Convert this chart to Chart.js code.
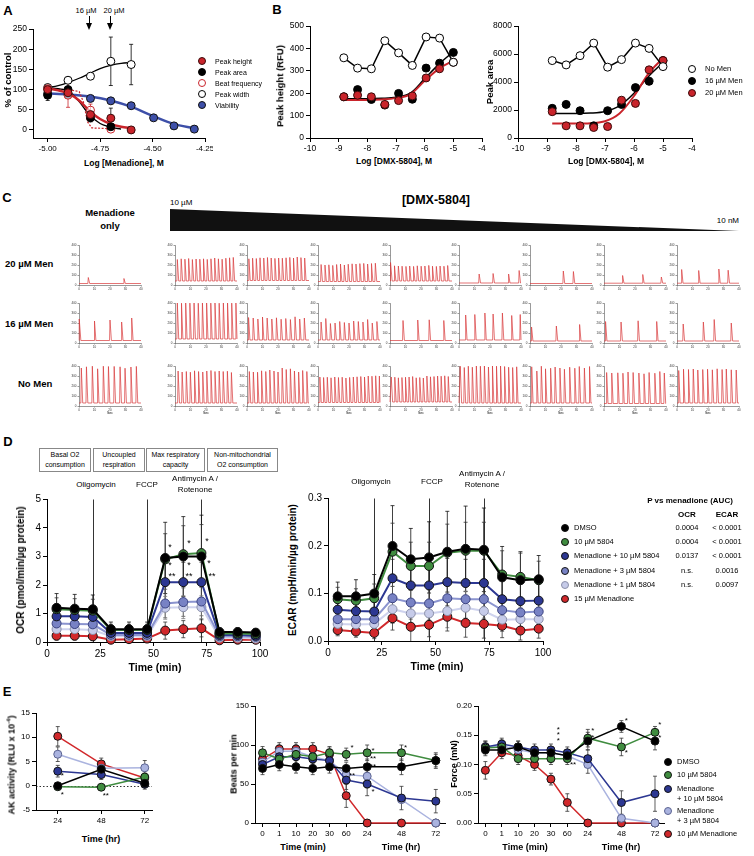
<!DOCTYPE html>
<html><head><meta charset="utf-8">
<script src="https://cdn.jsdelivr.net/npm/chart.js@4.4.1/dist/chart.umd.min.js"></script>
<style>
body{margin:0;background:#fff;}
#fig{position:relative;width:754px;height:856px;overflow:hidden;font-family:"Liberation Sans",Arial,sans-serif;color:#000;background:#fff;}
#fig canvas{position:absolute;}
.t{position:absolute;white-space:nowrap;line-height:1;}
.box{position:absolute;border:1px solid #888;box-sizing:border-box;font-size:7px;text-align:center;line-height:10px;padding-top:1px;}
</style></head><body><div id="fig"></div>
<script>
// ---------- A: menadione dose response ----------
const aLogMen = [-5, -4.903, -4.796, -4.699, -4.602, -4.495, -4.398, -4.301];
const aPeakHeight = [100, 92, 38, 29, 0];
const aPeakHeightErr = [5, 10, 8, 25, 3];
const aPeakArea = [86, 100, 30, 8];
const aPeakAreaErr = [13, 5, 10, 6];
const aBeatFreq = [102, 86, 49, 2];
const aBeatFreqErr = [5, 30, 15, 3];
const aPeakWidth = [105, 123, 133, 170, 162];
const aPeakWidthErr = [6, 8, 8, 60, 50];
const aViability = [90, 88, 78, 72, 60, 30, 10, 2];
const aFitX = [-5, -4.95, -4.9, -4.85, -4.8, -4.75, -4.7, -4.65, -4.6];
const aFitHeight = [103, 98, 90, 73, 47, 27, 15, 8, 4];
const aFitArea = [105, 102, 96, 70, 37, 16, 7, 2];
const aFitWidth = [105, 110, 118, 128, 140, 152, 160, 165, 167];
const aBeatX = [-5, -4.9, -4.85, -4.83, -4.81, -4.79, -4.7];
const aBeatLine = [102, 100, 95, 70, 20, 5, 3];
const aViabX = [-5, -4.9, -4.8, -4.7, -4.6, -4.5, -4.4, -4.3];
const aViabFit = [90, 88, 83, 73, 57, 35, 15, 4];
const aTicksX = [-5, -4.75, -4.5, -4.25];
const aTicksY = [0, 50, 100, 150, 200, 250];

// ---------- B: DMX-5804 rescue ----------
const bLogDmx = [-8.82, -8.34, -7.86, -7.39, -6.91, -6.43, -5.95, -5.48, -5.0];
const bNoMenH = [358, 312, 309, 434, 380, 324, 451, 446, 338];
const bMen16H = [184, 216, 172, 147, 199, 173, 312, 334, 382];
const bMen20H = [184, 191, 184, 150, 167, 188, 268, 309, 338];
const bNoMenA = [5530, 5220, 5880, 6780, 5060, 5600, 6780, 6400, 5100];
const bMen16A = [2120, 2400, 1950, 870, 1950, 2400, 3600, 4050, 5530];
const bMen20A = [1880, 870, 870, 750, 820, 2700, 2470, 4870, 5530];
const bFitX = [-8.82, -8, -7.5, -7, -6.5, -6, -5.5, -5];
const bFit16H = [175, 175, 177, 182, 200, 265, 330, 385];
const bFit20H = [170, 170, 172, 178, 195, 255, 310, 345];
const bFit16A = [1750, 1750, 1780, 1900, 2300, 3200, 4400, 5400];
const bFit20A = [1030, 1030, 1060, 1200, 1750, 3000, 4600, 5700];
const bTicksX = [-10, -9, -8, -7, -6, -5, -4];
const bTicksH = [0, 100, 200, 300, 400, 500];
const bTicksA = [0, 2000, 4000, 6000, 8000];

// ---------- C: calcium traces (peak times s, peak heights RFU, baseline) ----------
const cTimes20 = [
  [6, 29],
  [1.5,4,6.4,8.8,11.2,13.6,16,18.4,20.8,23.2,25.6,28,30.4,32.8,35.2,37.6],
  [1.2,3.6,6,8.4,10.8,13.2,15.6,18,20.4,22.8,25.2,27.6,30,32.4,34.8,37.2],
  [2,4.5,7,9.5,12,14.5,17,19.5,22,24.5,27,29.5,32,34.5,37],
  [0.5,2.9,5.4,7.8,10.3,12.7,15.2,17.6,20.1,22.5,25,27.4,29.9,32.3,34.8,37.2],
  [13,22,32,38.8], [21.5,28], [12,25,37], [3,14,27,33]
];
const cHeights20 = [
  [75,65],
  [255,262,258,265,255,260,258,262,256,262,270,262,258,268,272,276],
  [262,268,265,272,270,275,270,266,270,268,272,276,270,280,274,270],
  [205,200,202,196,205,210,200,208,212,210,214,216,210,215,218],
  [225,192,190,188,186,190,186,192,188,190,196,188,186,190,188,195],
  [110,115,110,145], [140,135], [95,105,80], [155,145,160,148]
];
const cBase20 = [15, 40, 45, 35, 40, 20, 15, 18, 18];
const cTimes16 = [
  [0.3,10,20,27.5,34],
  [1.5,4.2,6.9,9.6,12.3,15,17.7,20.4,23.1,25.8,28.5,31.2,33.9,36.6,39.3],
  [1,4,7,10,13,16,19,22,25,28,31,34,37],
  [2,5,8,11,14,17,20,23,26,29,32,35,38],
  [8.4,17.9,25.3,34.7], [4.3,10.2,16.7,22,28,34,39.5], [1,17,32], [1,11,22,34], [4,17,24,35]
];
const cHeights16 = [
  [240,220,230,210,250],
  [400,398,400,399,400,398,400,400,399,400,398,400,400,399,400],
  [255,250,240,260,250,240,252,238,245,235,262,240,250],
  [210,245,195,200,215,205,200,220,215,210,235,200,215],
  [225,230,232,225], [280,285,300,290,300,275,285], [160,170,185], [215,210,222,215], [190,210,235,200]
];
const cBase16 = [25, 40, 30, 30, 25, 30, 20, 20, 20];
const cTimesNo = [
  [1.5,4.8,8.6,12,15.7,19,22.7,26.5,29.7,33.5,37],
  [2,4.6,7.3,9.9,12.6,15.2,17.9,20.5,23.2,25.8,28.5,31.1,33.8,36.4],
  [1.5,4.1,6.8,9.4,12.1,14.7,17.4,20,22.7,25.3,28,30.6,33.3,35.9,38.6],
  [1.2,3.6,6,8.4,10.8,13.2,15.6,18,20.4,22.8,25.2,27.6,30,32.4,34.8,37.2,39.6],
  [0.8,3.1,5.4,7.7,10,12.3,14.6,16.9,19.2,21.5,23.8,26.1,28.4,30.7,33,35.3,37.6],
  [0.8,3.4,6,8.6,11.2,13.8,16.4,19,21.6,24.2,26.8,29.4,32,34.6,37.2],
  [1.1,4.4,7.3,10,13.3,16.2,19.3,22.2,25.6,28.9,31.8,35.1,38.4],
  [1.7,5,8.9,12.2,15.5,18.8,22.5,25.8,29.1,32.8,36,38.9],
  [1.1,4.2,7.4,10.5,13.4,16.6,19.7,22.8,25.9,29.1,31.8,35,38.2]
];
const cHeightsNo = [
  [380,392,398,372,398,395,396,392,378,390,396],
  [350,340,345,338,352,345,340,350,355,345,350,345,348,335],
  [345,340,338,352,345,360,350,340,380,365,372,350,340,355,345],
  [290,285,288,282,290,285,288,280,286,290,292,295,290,300,298,302,300],
  [290,288,282,285,288,290,295,282,285,280,300,292,295,300,298,302,295],
  [398,385,398,388,400,398,400,390,400,398,400,395,388,385,392],
  [392,350,398,372,378,390,380,368,388,378,395,380,395],
  [335,330,332,328,340,335,330,322,335,328,345,330],
  [355,368,365,370,360,365,368,362,372,365,370,362,360]
];
const cBaseNo = [30, 30, 30, 35, 40, 30, 30, 25, 30];
const cTicksX = [0, 10, 20, 30, 40];
const cTicksY = [0, 100, 200, 300, 400];

// ---------- D: Seahorse OCR / ECAR ----------
const dTime = [4.5, 13, 21.5, 30, 38.5, 47, 55.5, 64, 72.5, 81, 89.5, 98];
const dInject = [21.5, 47, 72.5];
const dNames = ['DMSO', '10 µM 5804', 'Menadione + 10 µM 5804', 'Menadione + 3 µM 5804', 'Menadione + 1 µM 5804', '15 µM Menadione'];
const dOcr = [
  [1.2, 1.17, 1.15, 0.45, 0.45, 0.45, 2.95, 3.0, 3.0, 0.35, 0.35, 0.33],
  [1.15, 1.12, 1.1, 0.42, 0.42, 0.42, 2.9, 3.08, 3.12, 0.3, 0.3, 0.28],
  [0.9, 0.9, 0.88, 0.32, 0.32, 0.32, 2.1, 2.1, 2.1, 0.25, 0.25, 0.22],
  [0.65, 0.63, 0.62, 0.25, 0.25, 0.25, 1.35, 1.4, 1.42, 0.2, 0.2, 0.18],
  [0.45, 0.45, 0.42, 0.2, 0.2, 0.2, 1.2, 1.22, 1.22, 0.15, 0.15, 0.12],
  [0.22, 0.22, 0.2, 0.08, 0.1, 0.12, 0.4, 0.45, 0.48, 0.06, 0.08, 0.08]
];
const dOcrErr = [
  [0.5, 0.5, 0.5, 0.25, 0.25, 0.25, 1.25, 1.4, 1.45, 0.15, 0.15, 0.12],
  [0.4, 0.4, 0.4, 0.2, 0.2, 0.2, 0.9, 1.0, 1.0, 0.12, 0.12, 0.1],
  [0.35, 0.3, 0.3, 0.15, 0.15, 0.15, 0.7, 0.7, 0.7, 0.1, 0.1, 0.1],
  [0.3, 0.3, 0.3, 0.15, 0.15, 0.15, 0.5, 0.5, 0.5, 0.1, 0.1, 0.1],
  [0.25, 0.25, 0.25, 0.1, 0.1, 0.1, 0.4, 0.4, 0.4, 0.08, 0.08, 0.08],
  [0.15, 0.15, 0.15, 0.06, 0.06, 0.06, 0.3, 0.3, 0.3, 0.05, 0.05, 0.05]
];
const dEcar = [
  [0.094, 0.094, 0.1, 0.2, 0.172, 0.176, 0.188, 0.194, 0.192, 0.134, 0.128, 0.13],
  [0.088, 0.085, 0.09, 0.188, 0.158, 0.158, 0.186, 0.19, 0.19, 0.14, 0.135, 0.128],
  [0.066, 0.063, 0.062, 0.132, 0.117, 0.117, 0.124, 0.122, 0.122, 0.088, 0.084, 0.085],
  [0.046, 0.046, 0.046, 0.09, 0.081, 0.079, 0.09, 0.088, 0.088, 0.065, 0.06, 0.062],
  [0.036, 0.035, 0.036, 0.067, 0.058, 0.058, 0.063, 0.07, 0.063, 0.045, 0.046, 0.046],
  [0.023, 0.02, 0.017, 0.048, 0.03, 0.034, 0.051, 0.038, 0.036, 0.032, 0.022, 0.026]
];
const dEcarErr = [
  [0.03, 0.035, 0.04, 0.085, 0.065, 0.075, 0.085, 0.09, 0.088, 0.065, 0.06, 0.05],
  [0.025, 0.025, 0.03, 0.06, 0.05, 0.05, 0.06, 0.06, 0.06, 0.05, 0.05, 0.04],
  [0.02, 0.02, 0.02, 0.04, 0.04, 0.04, 0.05, 0.05, 0.05, 0.04, 0.04, 0.04],
  [0.02, 0.02, 0.02, 0.035, 0.035, 0.035, 0.04, 0.04, 0.04, 0.03, 0.03, 0.03],
  [0.015, 0.015, 0.015, 0.03, 0.03, 0.03, 0.035, 0.035, 0.035, 0.025, 0.025, 0.025],
  [0.012, 0.012, 0.012, 0.025, 0.03, 0.025, 0.03, 0.03, 0.03, 0.025, 0.02, 0.02]
];
const dPOcr = ['0.0004', '0.0004', '0.0137', 'n.s.', 'n.s.', ''];
const dPEcar = ['< 0.0001', '< 0.0001', '< 0.0001', '0.0016', '0.0097', ''];
const dStarsOcr = [[57.7,3.33,'*'],[66.7,3.44,'*'],[75.1,3.54,'*'],[57.7,2.67,'*'],[66.7,2.67,'*'],[76,2.74,'*'],[58.7,2.3,'**'],[66.7,2.3,'**'],[77.5,2.3,'**']];
const dTicksX = [0, 25, 50, 75, 100];
const dTicksOcr = [0, 1, 2, 3, 4, 5];
const dTicksEcar = [0, 0.1, 0.2, 0.3];

// ---------- E: long-term menadione ----------
const eNames = ['DMSO', '10 µM 5804', 'Menadione<br>+ 10 µM 5804', 'Menadione<br>+ 3 µM 5804', '10 µM Menadione'];
const eHr = [24, 48, 72];
const eAk = [[0, 3.4, 0.5], [-0.2, -0.3, 1.8], [3.0, 2.3, 0.3], [6.5, 3.6, 3.7], [10.2, 4.5, 1.6]];
const eAkErr = [[0.4, 0.6, 0.5], [0.3, 0.4, 0.6], [1.2, 1.0, 1.0], [1.5, 0.8, 1.5], [2, 1.2, 1.0]];
const eTimeLabels = ['0', '1', '10', '20', '30', '60', '24', '48', '72'];
const eTimeSlot = [0, 1, 2, 3, 4, 5, 6.25, 8.3, 10.35];
const eBeats = [
  [70, 75, 72, 70, 72, 70, 72, 72, 80],
  [90, 82, 88, 85, 90, 88, 90, 90, 80],
  [75, 85, 85, 82, 80, 55, 50, 32, 28],
  [78, 92, 92, 85, 80, 62, 60, 30, 0],
  [82, 95, 95, 95, 88, 35, 0, 0, 0]
];
const eBeatsErr = [
  [8, 8, 8, 8, 8, 8, 10, 10, 8],
  [8, 8, 8, 8, 8, 8, 10, 10, 10],
  [8, 8, 8, 8, 8, 12, 15, 15, 15],
  [8, 8, 8, 8, 8, 12, 15, 0, 0],
  [8, 8, 8, 8, 8, 15, 0, 0, 0]
];
const eForce = [
  [0.125, 0.125, 0.13, 0.12, 0.12, 0.115, 0.14, 0.165, 0.14],
  [0.128, 0.13, 0.11, 0.11, 0.11, 0.11, 0.145, 0.13, 0.155],
  [0.13, 0.135, 0.13, 0.125, 0.125, 0.12, 0.11, 0.035, 0.05],
  [0.13, 0.132, 0.125, 0.12, 0.12, 0.115, 0.1, 0.008, 0],
  [0.09, 0.12, 0.115, 0.1, 0.075, 0.035, 0, 0, 0]
];
const eForceErr = [
  [0.01, 0.01, 0.01, 0.01, 0.01, 0.01, 0.015, 0.01, 0.015],
  [0.01, 0.01, 0.01, 0.01, 0.01, 0.01, 0.015, 0.015, 0.01],
  [0.01, 0.01, 0.01, 0.01, 0.01, 0.01, 0.015, 0.02, 0.03],
  [0.01, 0.01, 0.01, 0.01, 0.01, 0.01, 0.015, 0, 0],
  [0.015, 0.01, 0.01, 0.01, 0.01, 0.015, 0, 0, 0]
];
const eStarsAk = [[26.5, 2.0, '*'], [26.5, -1.8, '*'], [50.5, -2, '**']];
const eStarsBeats = [[5.35, 97, '*'], [5.35, 60, '**'], [6.6, 92, '*'], [6.6, 82, '**'], [6.6, 72, '**'], [6.6, 40, '*'], [8.55, 97, '*']];
const eStarsForce = [[4.45, 0.16, '*'], [4.45, 0.15, '*'], [4.45, 0.14, '*'], [5.35, 0.1, '**'], [6.55, 0.158, '*'], [6.55, 0.146, '*'], [8.6, 0.175, '*'], [8.6, 0.12, '*'], [10.65, 0.168, '*'], [10.65, 0.145, '*']];
const eTicksAk = [-5, 0, 5, 10, 15];
const eTicksBeats = [0, 50, 100, 150];
const eTicksForce = [0, 0.05, 0.1, 0.15, 0.2];

// ---------- drawing ----------
Chart.defaults.animation = false;
Chart.defaults.responsive = false;
Chart.defaults.events = [];
Chart.defaults.font.family = '"Liberation Sans", Arial, sans-serif';
Chart.defaults.color = '#000';
Chart.defaults.plugins.legend.display = false;
Chart.defaults.plugins.tooltip.enabled = false;

const fig = document.getElementById('fig');
const RED = '#c9242b', BLUE = '#3d4fa8';
const dColors = ['#000000', '#3f8c3f', '#2c3792', '#7882c4', '#c6cbe9', '#d1282b'];
const dLine = ['#000000', '#3f8c3f', '#2c3792', '#8b94cf', '#cfd3ee', '#d1282b'];
const dErrC = ['#111', '#333', '#222', '#555', '#777', '#333'];
const eColors = ['#000000', '#3f8c3f', '#2c3792', '#aab3df', '#d1282b'];

const xy = (xs, ys) => ys.map((v, i) => ({x: xs[i], y: v}));

function extras(o) {
  return {
    id: 'extras',
    beforeDatasetsDraw(chart) {
      const {ctx, chartArea: ca} = chart;
      const x = chart.scales.x, y = chart.scales.y;
      ctx.save();
      ctx.strokeStyle = '#000'; ctx.lineWidth = 0.8;
      (o.vlines || []).forEach(v => {
        const px = Math.round(x.getPixelForValue(v)) + 0.5;
        ctx.beginPath(); ctx.moveTo(px, ca.top); ctx.lineTo(px, ca.bottom); ctx.stroke();
      });
      if (o.zeroLine) {
        const py = Math.round(y.getPixelForValue(0)) + 0.5;
        ctx.setLineDash([1.5, 2]);
        ctx.beginPath(); ctx.moveTo(ca.left, py); ctx.lineTo(ca.right, py); ctx.stroke();
        ctx.setLineDash([]);
      }
      chart.data.datasets.forEach(ds => {
        if (!ds.err) return;
        ctx.strokeStyle = ds.errColor || '#000'; ctx.lineWidth = 0.8;
        ds.data.forEach((p, j) => {
          const e = ds.err[j]; if (!e) return;
          const px = x.getPixelForValue(p.x);
          const top = Math.max(y.getPixelForValue(p.y + e), ca.top - 3);
          const bot = Math.min(y.getPixelForValue(p.y - e), ca.bottom);
          ctx.beginPath();
          ctx.moveTo(px, top); ctx.lineTo(px, bot);
          ctx.moveTo(px - 2, top); ctx.lineTo(px + 2, top);
          if (bot < ca.bottom) { ctx.moveTo(px - 2, bot); ctx.lineTo(px + 2, bot); }
          ctx.stroke();
        });
      });
      ctx.restore();
    },
    afterDatasetsDraw(chart) {
      if (!o.stars) return;
      const {ctx} = chart;
      ctx.save();
      ctx.fillStyle = '#000';
      ctx.font = (o.starSize || 9) + 'px "Liberation Sans", Arial';
      ctx.textAlign = 'center'; ctx.textBaseline = 'middle';
      o.stars.forEach(s => ctx.fillText(s[2], chart.scales.x.getPixelForValue(s[0]), chart.scales.y.getPixelForValue(s[1])));
      ctx.restore();
    }
  };
}

function axis(min, max, ticks, size, fmt, look) {
  look = look || {};
  return {
    type: 'linear', min, max,
    afterBuildTicks: s => { s.ticks = ticks.map(v => ({value: v})); },
    ticks: {font: {size}, color: look.tc || '#000', padding: look.pad ?? 2, autoSkip: false, maxRotation: 0,
            callback: fmt || (v => v)},
    grid: {display: true, drawOnChartArea: false, drawTicks: true, tickLength: look.tl ?? 4,
           color: look.c || '#000', lineWidth: look.w || 1},
    border: {display: true, color: look.c || '#000', width: look.w || 1}
  };
}

// area = [left, top, right, bottom] of the plot, m = [yAxisW, padTop, padRight, xAxisH]
function chartAt(area, m, scales, datasets, extra) {
  const [l, t, r, b] = area;
  const W = r - l + m[0] + m[2], H = b - t + m[1] + m[3];
  const c = document.createElement('canvas');
  c.width = W; c.height = H;
  Object.assign(c.style, {left: (l - m[0]) + 'px', top: (t - m[1]) + 'px', width: W + 'px', height: H + 'px'});
  fig.appendChild(c);
  Object.values(scales).forEach(s => {
    s.afterFit = sc => {
      if (sc.isHorizontal()) sc.height = m[3]; else sc.width = m[0];
      sc.paddingLeft = sc.paddingRight = sc.paddingTop = sc.paddingBottom = 0;
    };
  });
  return new Chart(c, {
    type: 'line',
    data: {datasets},
    options: {devicePixelRatio: 1, clip: false, layout: {padding: {left: 0, top: m[1], right: m[2], bottom: 0}}, scales},
    plugins: [extras(extra || {})]
  });
}

function pts(xs, ys, fill, stroke, r, more) {
  return Object.assign({data: xy(xs, ys), showLine: false, pointRadius: r, pointBackgroundColor: fill,
    pointBorderColor: stroke, pointBorderWidth: 1, borderColor: stroke, borderWidth: 1.5, tension: 0, order: 1}, more);
}
function curve(xs, ys, color, w, more) {
  return Object.assign({data: xy(xs, ys), showLine: true, borderColor: color, borderWidth: w, pointRadius: 0,
    cubicInterpolationMode: 'monotone', fill: false, order: 2}, more);
}

function T(s, x, y, size, o) {
  o = o || {};
  const d = document.createElement('div');
  d.className = 't';
  d.innerHTML = s;
  d.style.left = x + 'px'; d.style.top = y + 'px'; d.style.fontSize = size + 'px';
  if (o.b) d.style.fontWeight = 'bold';
  if (o.lh) { d.style.lineHeight = o.lh; d.style.textAlign = o.ta || 'center'; }
  const a = o.a || 'c';
  const ty = o.top ? '0' : '-50%';
  d.style.transform = (a === 'c' ? 'translate(-50%,' + ty + ')' : a === 'r' ? 'translate(-100%,' + ty + ')' : 'translate(0,' + ty + ')') + (o.rot ? ' rotate(-90deg)' : '');
  fig.appendChild(d);
}
function dot(x, y, r, fill, stroke) {
  const d = document.createElement('div');
  Object.assign(d.style, {position: 'absolute', left: (x - r) + 'px', top: (y - r) + 'px', width: 2 * r + 'px', height: 2 * r + 'px',
    borderRadius: '50%', background: fill, border: '1px solid ' + stroke, boxSizing: 'border-box'});
  fig.appendChild(d);
}
function arrow(x, y1, y2) {
  const s = document.createElement('div');
  Object.assign(s.style, {position: 'absolute', left: (x - 0.5) + 'px', top: y1 + 'px', width: '1.4px', height: (y2 - y1 - 5) + 'px', background: '#000'});
  fig.appendChild(s);
  const h = document.createElement('div');
  Object.assign(h.style, {position: 'absolute', left: (x - 3.5) + 'px', top: (y2 - 6) + 'px', width: 0, height: 0,
    borderLeft: '3.5px solid transparent', borderRight: '3.5px solid transparent', borderTop: '7px solid #000'});
  fig.appendChild(h);
}

// ----- panel letters -----
T('A', 8, 10, 13, {b: 1}); T('B', 277, 9, 13, {b: 1}); T('C', 7, 197, 13, {b: 1});
T('D', 8, 441, 13, {b: 1}); T('E', 7, 691, 13, {b: 1});

// ----- A -----
chartAt([33, 28, 205, 138], [24, 4, 8, 16], {
  x: axis(-5.07, -4.25, aTicksX, 8, v => v.toFixed(2)),
  y: axis(-20, 250, aTicksY, 8.5)
}, [
  pts(aLogMen, aPeakHeight, RED, '#3a0a0a', 4, {err: aPeakHeightErr}),
  pts(aLogMen, aPeakArea, '#000', '#000', 4, {err: aPeakAreaErr}),
  pts(aLogMen, aBeatFreq, 'rgba(255,255,255,0.6)', RED, 4, {err: aBeatFreqErr, errColor: RED}),
  pts(aLogMen, aPeakWidth, '#fff', '#000', 4, {err: aPeakWidthErr}),
  pts(aLogMen, aViability, BLUE, '#111', 4),
  curve(aFitX, aFitHeight, RED, 2.5),
  curve(aFitX, aFitArea, '#000', 1.3),
  curve(aBeatX, aBeatLine, RED, 1.2, {borderDash: [2, 1.5], cubicInterpolationMode: 'default', tension: 0}),
  curve(aFitX, aFitWidth, '#000', 1.3),
  curve(aViabX, aViabFit, BLUE, 2.5)
]);
T('16 µM', 86, 11, 7.5); T('20 µM', 114, 11, 7.5);
arrow(89, 16, 29); arrow(110, 16, 29);
T('% of control', 8, 80, 9.5, {b: 1, rot: 1});
T('Log [Menadione], M', 124, 163, 8.5, {b: 1});
[['Peak height', RED, '#3a0a0a'], ['Peak area', '#000', '#000'], ['Beat frequency', '#fff', RED],
 ['Peak width', '#fff', '#000'], ['Viability', BLUE, '#111']].forEach((e, i) => {
  const yy = 61 + i * 11;
  dot(202, yy, 4, e[1], e[2]); T(e[0], 215, yy, 7, {a: 'l'});
});

// ----- B -----
chartAt([310, 25, 482, 138], [28, 4, 8, 16], {
  x: axis(-10, -4, bTicksX, 8.5), y: axis(0, 500, bTicksH, 8.5)
}, [
  pts(bLogDmx, bNoMenH, '#fff', '#000', 4, {showLine: true, borderWidth: 1.5}),
  pts(bLogDmx, bMen20H, RED, '#3a0a0a', 4),
  pts(bLogDmx, bMen16H, '#000', '#000', 4),
  curve(bFitX, bFit20H, RED, 2),
  curve(bFitX, bFit16H, '#000', 1.5)
]);
chartAt([518, 25, 692, 138], [30, 4, 8, 16], {
  x: axis(-10, -4, bTicksX, 8.5), y: axis(0, 8000, bTicksA, 8.5)
}, [
  pts(bLogDmx, bNoMenA, '#fff', '#000', 4, {showLine: true, borderWidth: 1.5}),
  pts(bLogDmx, bMen20A, RED, '#3a0a0a', 4),
  pts(bLogDmx, bMen16A, '#000', '#000', 4),
  curve(bFitX, bFit20A, RED, 2),
  curve(bFitX, bFit16A, '#000', 1.5)
]);
T('Peak height (RFU)', 280, 86, 9.5, {b: 1, rot: 1});
T('Peak area', 490, 82, 9.5, {b: 1, rot: 1});
T('Log [DMX-5804], M', 394, 161, 8.5, {b: 1});
T('Log [DMX-5804], M', 606, 161, 8.5, {b: 1});
[['No Men', '#fff', '#000'], ['16 µM Men', '#000', '#000'], ['20 µM Men', RED, '#3a0a0a']].forEach((e, i) => {
  const yy = 69 + i * 12;
  dot(692, yy, 4, e[1], e[2]); T(e[0], 705, yy, 7.5, {a: 'l'});
});

// ----- C -----
T('Menadione<br>only', 110, 219, 9.5, {b: 1, lh: '13px'});
T('10 µM', 170, 203, 8, {a: 'l'});
T('[DMX-5804]', 436, 200, 12.5, {b: 1});
T('10 nM', 739, 221, 8, {a: 'r'});
const wedge = document.createElementNS('http://www.w3.org/2000/svg', 'svg');
wedge.setAttribute('width', 754); wedge.setAttribute('height', 240);
Object.assign(wedge.style, {position: 'absolute', left: 0, top: 0});
wedge.innerHTML = '<polygon points="170,209 170,231 739,231" fill="#111"/>';
fig.appendChild(wedge);
const cRowLabel = ['20 µM Men', '16 µM Men', 'No Men'];
[5, 5, 18].forEach((lx, i) => T(cRowLabel[i], lx, [264, 324, 384][i], 9.5, {b: 1, a: 'l'}));
const cColX = [79, 175, 247, 318, 390, 459, 530, 604, 677];
const cRowTop = [245, 303, 366];
function trace(times, heights, base) {
  const out = [{x: 0, y: base}];
  times.forEach((t, i) => {
    out.push({x: Math.max(t - 0.3, 0), y: base}, {x: t, y: heights[i]}, {x: Math.min(t + 0.9, 40), y: base});
  });
  out.push({x: 40, y: base});
  return out;
}
[[cTimes20, cHeights20, cBase20], [cTimes16, cHeights16, cBase16], [cTimesNo, cHeightsNo, cBaseNo]].forEach((row, ri) => {
  cColX.forEach((lx, ci) => {
    const look = {c: '#555', w: 0.6, tl: 1.5, pad: 1, tc: '#333'};
    chartAt([lx, cRowTop[ri], lx + 62, cRowTop[ri] + 40], [9, 3, 3, 6], {
      x: axis(0, 40, cTicksX, 3, null, look), y: axis(0, 400, cTicksY, 3, null, look)
    }, [{data: trace(row[0][ci], row[1][ci], row[2][ci]), showLine: true, borderColor: '#d8383a', borderWidth: 0.7, pointRadius: 0, tension: 0}]);
    if (ri === 2) T('Sec', lx + 31, 414, 3.5);
  });
});

// ----- D -----
[['Basal O2<br>consumption', 39, 52], ['Uncoupled<br>respiration', 93, 52], ['Max respiratory<br>capacity', 146, 59], ['Non-mitochondrial<br>O2 consumption', 207, 71]].forEach(bx => {
  const d = document.createElement('div');
  d.className = 'box';
  Object.assign(d.style, {left: bx[1] + 'px', top: '448px', width: bx[2] + 'px', height: '24px'});
  d.innerHTML = bx[0];
  fig.appendChild(d);
});
function dSets(vals, errs, r) {
  return vals.map((v, i) => pts(dTime, v, dColors[i], i === 4 ? '#8a8fa8' : (i === 3 ? '#3a4280' : '#111'), r,
    {showLine: true, borderColor: dLine[i], borderWidth: 2, err: errs[i], errColor: dErrC[i]}));
}
chartAt([47, 498, 260, 642], [30, 4, 10, 20], {
  x: axis(0, 100, dTicksX, 10), y: axis(0, 5, dTicksOcr, 10)
}, dSets(dOcr, dOcrErr, 4.5), {vlines: dInject, stars: dStarsOcr, starSize: 9});
chartAt([328, 497, 543, 641], [30, 4, 10, 20], {
  x: axis(0, 100, dTicksX, 10), y: axis(0, 0.3, dTicksEcar, 10, v => v.toFixed(1))
}, dSets(dEcar, dEcarErr, 4.5), {vlines: dInject});
T('Oligomycin', 96, 485, 8); T('FCCP', 147, 485, 8); T('Antimycin A /<br>Rotenone', 195, 484, 8, {lh: '11px'});
T('Oligomycin', 371, 482, 8); T('FCCP', 432, 482, 8); T('Antimycin A /<br>Rotenone', 482, 479, 8, {lh: '11px'});
T('OCR (pmol/min/µg protein)', 21, 570, 10, {b: 1, rot: 1});
T('ECAR (mpH/min/µg protein)', 293, 570, 10, {b: 1, rot: 1});
T('Time (min)', 155, 667, 10.5, {b: 1}); T('Time (min)', 437, 666, 10.5, {b: 1});
T('P vs menadione (AUC)', 690, 501, 8, {b: 1});
T('OCR', 687, 515, 8, {b: 1}); T('ECAR', 727, 515, 8, {b: 1});
dNames.forEach((n, i) => {
  const yy = 528 + i * 14.2;
  dot(565, yy, 4, dColors[i], i === 4 ? '#8a8fa8' : '#111');
  T(n, 574, yy, 7.5, {a: 'l'});
  if (dPOcr[i]) T(dPOcr[i], 687, yy, 7.5);
  if (dPEcar[i]) T(dPEcar[i], 727, yy, 7.5);
});

// ----- E -----
const eOrder = [4, 3, 2, 1, 0];
function eSets(xs, vals, errs) {
  const sets = vals.map((v, i) => pts(xs, v, eColors[i], i === 3 ? '#5a6290' : '#111', 4,
    {showLine: true, borderColor: eColors[i], borderWidth: 1.5, err: errs[i], errColor: '#333'}));
  return eOrder.map(i => sets[i]).reverse();
}
chartAt([36, 712, 152, 810], [22, 4, 6, 16], {
  x: axis(12, 76, eHr, 8), y: axis(-5, 15, eTicksAk, 8)
}, eSets(eHr, eAk, eAkErr), {zeroLine: true, stars: eStarsAk, starSize: 8});
chartAt([255, 705, 445, 823], [22, 4, 6, 14], {
  x: axis(-0.45, 10.9, eTimeSlot, 8, (v, i) => eTimeLabels[i]), y: axis(0, 150, eTicksBeats, 8)
}, eSets(eTimeSlot, eBeats, eBeatsErr), {stars: eStarsBeats, starSize: 8});
chartAt([478, 705, 664, 823], [26, 4, 6, 14], {
  x: axis(-0.45, 10.9, eTimeSlot, 8, (v, i) => eTimeLabels[i]), y: axis(0, 0.2, eTicksForce, 8, v => v.toFixed(2))
}, eSets(eTimeSlot, eForce, eForceErr), {stars: eStarsForce, starSize: 8});
T('AK activity (RLU x 10<sup style="font-size:6px">-4</sup>)', 11, 765, 9, {b: 1, rot: 1});
T('Beats per min', 234, 764, 9, {b: 1, rot: 1});
T('Force (mN)', 454, 764, 9, {b: 1, rot: 1});
T('Time (hr)', 101, 839, 9, {b: 1});
T('Time (min)', 303, 847, 9, {b: 1}); T('Time (hr)', 401, 847, 9, {b: 1});
T('Time (min)', 525, 847, 9, {b: 1}); T('Time (hr)', 621, 847, 9, {b: 1});
[762, 775, 789, 811, 834].forEach((yy, i) => {
  dot(668, yy, 4, eColors[i], i === 3 ? '#5a6290' : '#111');
  T(eNames[i], 677, yy - 5, 7.5, {a: 'l', lh: '10px', ta: 'left', top: 1});
});
</script></body></html>
